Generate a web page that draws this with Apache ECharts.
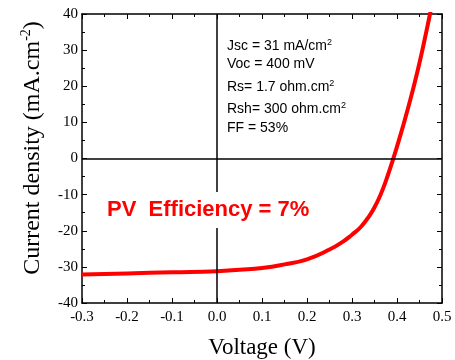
<!DOCTYPE html>
<html>
<head>
<meta charset="utf-8">
<script src="https://cdn.jsdelivr.net/npm/echarts@6/dist/echarts.min.js"></script>
<style>html,body{margin:0;padding:0;background:#fff}#c{width:455px;height:360px}</style>
</head>
<body>
<div id="c"></div>
<script>
const voltage = [-0.30, -0.20, -0.10, 0.00, 0.05, 0.10, 0.15, 0.20, 0.25, 0.28, 0.30, 0.32, 0.34, 0.35, 0.36, 0.37, 0.38, 0.39, 0.40, 0.41, 0.42, 0.43, 0.44, 0.45, 0.46, 0.47, 0.48];
const currentDensity = [-32.1, -31.8, -31.5, -31.2, -30.8, -30.3, -29.3, -27.9, -25.2, -23.0, -21.1, -18.9, -15.6, -13.5, -11.0, -8.0, -4.5, -0.7, 3.3, 7.5, 11.9, 16.5, 21.3, 26.5, 32.1, 38.0, 44.0];
const xRange = [-0.3, 0.5];
const yRange = [-40, 40];
const annotationLines = [
  ['Jsc = 31 mA/cm', '2'],
  ['Voc = 400 mV', ''],
  ['Rs= 1.7 ohm.cm', '2'],
  ['Rsh= 300 ohm.cm', '2'],
  ['FF = 53%', '']
];
const efficiencyText = 'PV  Efficiency = 7%';
const xName = 'Voltage (V)';
const yNameMain = 'Current density (mA.cm';
const yNameSup = '-2';

const chart = echarts.init(document.getElementById('c'));
const serif = '"Liberation Serif", "Times New Roman", serif';
const sans = '"Liberation Sans", Arial, sans-serif';

const axisCommon = {
  axisLine: { show: true, onZero: false, lineStyle: { color: '#000', width: 1.5 } },
  axisTick: { show: true, inside: true, length: 5, lineStyle: { color: '#000', width: 1 } },
  minorTick: { show: true, splitNumber: 2, length: 3, lineStyle: { color: '#000', width: 1 } },
  splitLine: { show: false },
  minorSplitLine: { show: false }
};

const annoGraphics = annotationLines.map((l, i) => ({
  type: 'text',
  left: 227,
  top: [38, 57, 79, 101, 121][i],
  z: 100,
  style: {
    rich: {
      n: { fontFamily: sans, fontSize: 14, color: '#111', lineHeight: 16 },
      s: { fontFamily: sans, fontSize: 9, color: '#111', verticalAlign: 'top', lineHeight: 16 }
    },
    text: '{n|' + l[0] + '}' + (l[1] ? '{s|' + l[1] + '}' : '')
  }
}));

chart.setOption({
  animation: false,
  grid: { left: 82, right: 13, top: 14, bottom: 57 },
  xAxis: [
    Object.assign({
      type: 'value', min: xRange[0], max: xRange[1], interval: 0.1, position: 'bottom',
      axisLabel: { color: '#000', fontFamily: serif, fontSize: 15, margin: 7, formatter: v => v.toFixed(1) }
    }, axisCommon),
    Object.assign({
      type: 'value', min: xRange[0], max: xRange[1], interval: 0.1, position: 'top',
      axisLabel: { show: false }
    }, axisCommon)
  ],
  yAxis: [
    Object.assign({
      type: 'value', min: yRange[0], max: yRange[1], interval: 10, position: 'left',
      axisLabel: { color: '#000', fontFamily: serif, fontSize: 15, margin: 4 }
    }, axisCommon),
    Object.assign({
      type: 'value', min: yRange[0], max: yRange[1], interval: 10, position: 'right',
      axisLabel: { show: false }
    }, axisCommon)
  ],
  graphic: [
    {
      type: 'text', x: 262, y: 348, z: 100,
      style: { text: xName, fontFamily: serif, fontSize: 23, fill: '#000', align: 'center', verticalAlign: 'middle' }
    },
    {
      type: 'text', x: 33, y: 148, rotation: Math.PI / 2, z: 100,
      style: {
        text: '{n|' + yNameMain + '}{s|' + yNameSup + '}{n|)}',
        align: 'center', verticalAlign: 'middle',
        rich: {
          n: { fontFamily: serif, fontSize: 24, fill: '#000', lineHeight: 27 },
          s: { fontFamily: serif, fontSize: 14, fill: '#000', verticalAlign: 'top', lineHeight: 27 }
        }
      }
    },
    {
      type: 'text', left: 105, top: 192, z: 100,
      style: {
        text: efficiencyText, fontFamily: sans, fontWeight: 'bold', fontSize: 22, fill: '#ff0000',
        backgroundColor: '#fff', padding: [7, 2, 7, 2]
      }
    }
  ].concat(annoGraphics),
  series: [{
    type: 'line',
    data: voltage.map((v, i) => [v, currentDensity[i]]),
    smooth: 0.5,
    showSymbol: false,
    clip: true,
    lineStyle: { color: '#ff0000', width: 4 },
    markLine: {
      silent: true, symbol: 'none', animation: false,
      label: { show: false },
      lineStyle: { color: '#000', width: 1.5, type: 'solid' },
      data: [{ xAxis: 0 }, { yAxis: 0 }]
    }
  }]
});
</script>
</body>
</html>
